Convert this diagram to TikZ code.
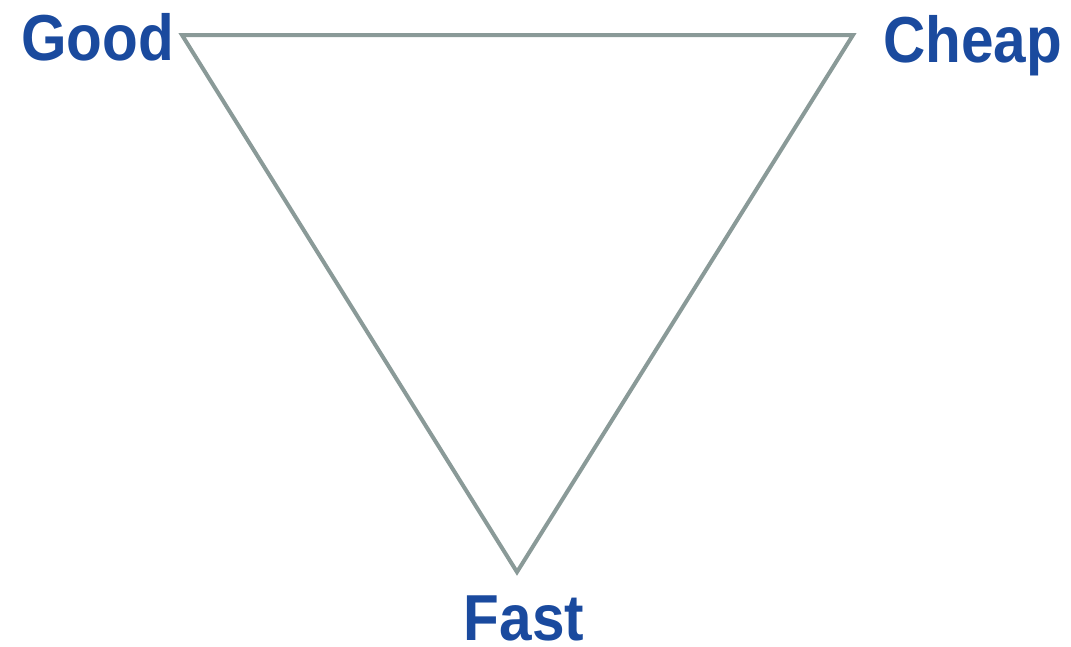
\documentclass[tikz,border=0pt]{standalone}
\usepackage{fontspec}
\setmainfont{Liberation Sans}[UprightFont=* Bold,FakeStretch=0.9]
\definecolor{txtblue}{HTML}{1A4A9E}
\definecolor{edgegray}{HTML}{8A9A98}
\begin{document}
\begin{tikzpicture}[x=1pt,y=-1pt,
  lbl/.style={text=txtblue,font=\fontsize{65}{70}\selectfont,inner sep=0pt},
  edge/.style={draw=edgegray,line width=4pt,line join=miter}]
\useasboundingbox (0,0) rectangle (1071,646);
\coordinate (g) at (182,35);
\coordinate (c) at (853,35);
\coordinate (f) at (517,572);
\node[lbl,anchor=base east] (good) at (174,60) {Good};
\node[lbl,anchor=base west] (cheap) at (883,62) {Cheap};
\node[lbl,anchor=base,text depth=0pt] (fast) at (524,640) {Fast};
\draw[edge] (g) -- (c) -- (f) -- cycle;
\end{tikzpicture}
\end{document}
